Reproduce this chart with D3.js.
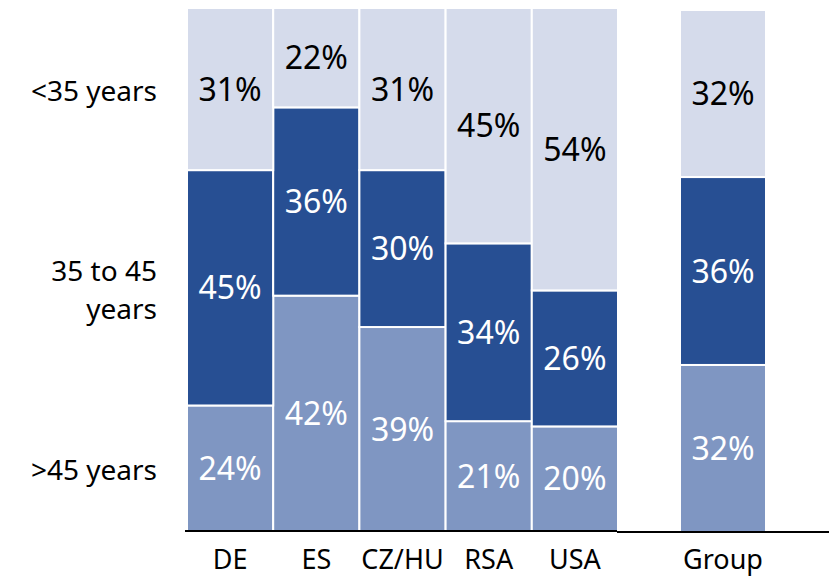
<!DOCTYPE html>
<html>
<head>
<meta charset="utf-8">
<script src="https://cdn.jsdelivr.net/npm/d3@7"></script>
<style>
  body { margin: 0; background: #fff; }
  text { font-family: 'Noto Sans', sans-serif; }
</style>
</head>
<body>
<svg id="chart" width="838" height="576"></svg>
<script>
var categories = ['DE', 'ES', 'CZ/HU', 'RSA', 'USA'];
var groupCategory = ['Group'];
var seriesNames = ['>45 years', '35 to 45 years', '<35 years'];
var seriesLabels = [['>45 years'], ['35 to 45', 'years'], ['<35 years']];

// bar heights per series, same order as categories (as drawn)
var over45 = [24, 45, 39, 21, 20];
var mid35to45 = [45, 36, 30, 34, 26];
var under35 = [31, 19, 31, 45, 54];

// printed percentages (ES labels differ from its drawn heights)
var over45Text = [24, 42, 39, 21, 20];
var midText = [45, 36, 30, 34, 26];
var under35Text = [31, 22, 31, 45, 54];

var groupOver45 = [32];
var groupMid = [36];
var groupUnder35 = [32];

var colors = ['#7f96c2', '#274f93', '#d5dbeb'];
var textColors = ['#fff', '#fff', '#000'];

var svg = d3.select('#chart');

function buildRows(cats, a, b, c, ta, tb, tc) {
  return cats.map(function (d, i) {
    return {
      cat: d,
      '>45 years': a[i], '35 to 45 years': b[i], '<35 years': c[i],
      texts: [ta[i], tb[i], tc[i]]
    };
  });
}

var stack = d3.stack().keys(seriesNames);

function drawPanel(rows, xRange, yRange, axisX) {
  var x = d3.scaleBand()
    .domain(rows.map(function (d) { return d.cat; }))
    .range(xRange)
    .padding(0);
  var y = d3.scaleLinear()
    .domain([0, 100])
    .range(yRange);

  var layers = stack(rows);

  var g = svg.append('g');
  var layer = g.selectAll('g.layer')
    .data(layers)
    .enter()
    .append('g')
    .attr('class', 'layer');

  layer.each(function (L, li) {
    var sel = d3.select(this);
    sel.selectAll('rect')
      .data(L)
      .enter()
      .append('rect')
      .attr('x', function (d) { return x(d.data.cat); })
      .attr('width', x.bandwidth())
      .attr('y', function (d) { return y(d[1]); })
      .attr('height', function (d) { return y(d[0]) - y(d[1]); })
      .attr('fill', colors[li])
      .attr('stroke', '#fff')
      .attr('stroke-width', 2);

    sel.selectAll('text')
      .data(L)
      .enter()
      .append('text')
      .attr('x', function (d) { return x(d.data.cat) + x.bandwidth() / 2; })
      .attr('y', function (d) { return (y(d[0]) + y(d[1])) / 2; })
      .attr('dy', '0.36em')
      .attr('text-anchor', 'middle')
      .attr('font-size', '32px')
      .attr('fill', textColors[li])
      .text(function (d) { return d.data.texts[li] + '%'; });
  });

  // baseline
  g.append('line')
    .attr('x1', axisX[0])
    .attr('x2', axisX[1])
    .attr('y1', yRange[0])
    .attr('y2', yRange[0])
    .attr('stroke', '#000')
    .attr('stroke-width', 2);

  // category labels
  var xAxis = d3.axisBottom(x).tickSize(0).tickPadding(0);
  var ax = g.append('g')
    .attr('transform', 'translate(0,' + 569 + ')')
    .call(xAxis);
  ax.select('.domain').remove();
  ax.selectAll('text')
    .attr('dy', 0)
    .attr('font-size', '27px')
    .attr('font-family', 'Noto Sans, sans-serif')
    .attr('fill', '#000');

  return { x: x, y: y, layers: layers };
}

var left = drawPanel(
  buildRows(categories, over45, mid35to45, under35, over45Text, midText, under35Text),
  [187, 618], [531, 8], [185, 617]);
drawPanel(
  buildRows(groupCategory, groupOver45, groupMid, groupUnder35, groupOver45, groupMid, groupUnder35),
  [680, 766], [532, 10], [617, 829]);

// series labels, aligned to the first column's segments
left.layers.forEach(function (L, li) {
  var seg = L[0];
  var cy = (left.y(seg[0]) + left.y(seg[1])) / 2;
  var lines = seriesLabels[li];
  var lh = 38;
  var t = svg.append('text')
    .attr('text-anchor', 'end')
    .attr('font-size', '28px')
    .attr('fill', '#000');
  lines.forEach(function (s, k) {
    t.append('tspan')
      .attr('x', 157)
      .attr('y', cy + 2 + (k - (lines.length - 1) / 2) * lh)
      .attr('dy', '0.36em')
      .text(s);
  });
});
</script>
</body>
</html>
